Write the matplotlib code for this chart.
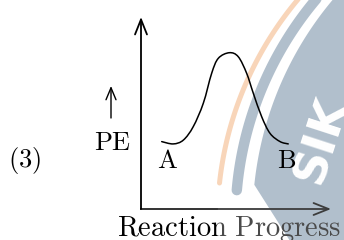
import numpy as np
import matplotlib
matplotlib.use('Agg')
import matplotlib.pyplot as plt
from matplotlib.path import Path
from matplotlib.patches import PathPatch, Polygon
from matplotlib.transforms import Bbox

plt.rcParams['mathtext.fontset'] = 'cm'

# ---------------- data ----------------
progress = [1.09, 1.70, 2.23, 2.75, 3.28, 3.72, 4.07, 4.65, 5.12, 5.56, 5.91, 6.35, 6.79, 7.32, 7.75]
energy = [3.51, 3.39, 3.59, 4.29, 5.51, 7.07, 7.85, 8.14, 7.93, 7.07, 6.03, 4.81, 3.94, 3.51, 3.39]
state_labels = ['A', 'B']
state_progress = [1.37, 7.68]
state_energy = [2.5, 2.5]
x_label_left = 'Reaction'
x_label_right = 'Progress'
y_label = 'PE'
panel_label = '(3)'

W, H = 344, 240
fig = plt.figure(figsize=(W / 100, H / 100), dpi=100)

# background layer in pixel units (for labels and watermark)
bg = fig.add_axes([0, 0, 1, 1])
bg.set_xlim(0, W)
bg.set_ylim(H, 0)
bg.axis('off')

# ---------------- watermark (decoration) ----------------
blue = '#B1BFCC'
orange = '#F8D5B9'
t = np.radians(np.linspace(-134, -173.8, 100))
bg.plot(560 + 342.5 * np.cos(t), 220 + 342.5 * np.sin(t), color=orange, lw=3.6,
        solid_capstyle='round', zorder=1)
t = np.radians(np.linspace(-134, -175.0, 100))
bg.plot(578 + 342.5 * np.cos(t), 220 + 342.5 * np.sin(t), color=blue, lw=7.5,
        solid_capstyle='round', zorder=1)
t = np.radians(np.linspace(-130, -174.1, 100))
pts = np.column_stack([595 + 342.5 * np.cos(t), 220 + 342.5 * np.sin(t)])
pts = np.vstack([pts, [[297, 252], [420, 252], [420, -30]]])
bg.add_patch(Polygon(pts, closed=True, facecolor=blue, edgecolor='none', zorder=1))
bg.text(308, 182, 'SIK', rotation=72, rotation_mode='anchor', ha='left', va='center',
        color='white', fontsize=34, fontweight='bold', family='DejaVu Sans', zorder=2,
        clip_on=True)

# ---------------- labels ----------------
fs = 19
bg.text(25, 161, r'$\mathrm{' + panel_label + '}$', ha='center', va='center', fontsize=fs, zorder=5)
bg.text(112.5, 142.5, r'$\mathrm{' + y_label + '}$', ha='center', va='center', fontsize=fs, zorder=5)
bg.annotate('', xy=(111, 86), xytext=(111, 118),
            arrowprops=dict(arrowstyle='->,head_length=0.86,head_width=0.36', lw=1.0,
                            color='k', shrinkA=0, shrinkB=0, mutation_scale=10), zorder=5)

full = r'$\mathrm{' + x_label_left + r'\ ' + x_label_right + '}$'
split_x = 216.5
for clip, col in [((0, 0, split_x, H), 'k'), ((split_x, 0, W, H), '#4a4a4a')]:
    tx = bg.text(229, 235.5, full, ha='center', va='baseline', fontsize=20.5, color=col, zorder=5)
    tx.set_clip_box(Bbox.from_extents(*clip))
    tx.set_clip_on(True)

# ---------------- chart ----------------
ax = fig.add_axes([141 / W, 31 / H, 190 / W, 192 / H])
ax.set_xlim(0, 10)
ax.set_ylim(0, 10)
ax.axis('off')
ax.patch.set_visible(False)

# smooth curve through the read points (Catmull-Rom -> cubic Bezier)
P = np.column_stack([progress, energy])
verts = [P[0]]
codes = [Path.MOVETO]
n = len(P)
for i in range(n - 1):
    p0 = P[i - 1] if i > 0 else P[i]
    p1, p2 = P[i], P[i + 1]
    p3 = P[i + 2] if i + 2 < n else P[i + 1]
    verts += [p1 + (p2 - p0) / 6, p2 - (p3 - p1) / 6, p2]
    codes += [Path.CURVE4] * 3
ax.add_patch(PathPatch(Path(verts, codes), fill=False, lw=1.1, edgecolor='k',
                       capstyle='round', clip_on=False))

for lab, xp, yp in zip(state_labels, state_progress, state_energy):
    ax.text(xp, yp, r'$\mathrm{' + lab + '}$', ha='center', va='center', fontsize=fs)

arrow_kw = dict(arrowstyle='->,head_length=1.08,head_width=0.43', lw=1.3,
                shrinkA=0, shrinkB=0, mutation_scale=10)
ax.annotate('', xy=(1, 0), xytext=(0, 0), xycoords='axes fraction',
            arrowprops=dict(color='#3c3c3c', **arrow_kw), annotation_clip=False)
ax.annotate('', xy=(0, 1), xytext=(0, 0), xycoords='axes fraction',
            arrowprops=dict(color='k', **arrow_kw), annotation_clip=False)
ax.plot([0, (split_x - 141) / 190], [0, 0], transform=ax.transAxes, color='k', lw=1.3,
        solid_capstyle='projecting', clip_on=False)

fig.savefig('out.png', dpi=100)
